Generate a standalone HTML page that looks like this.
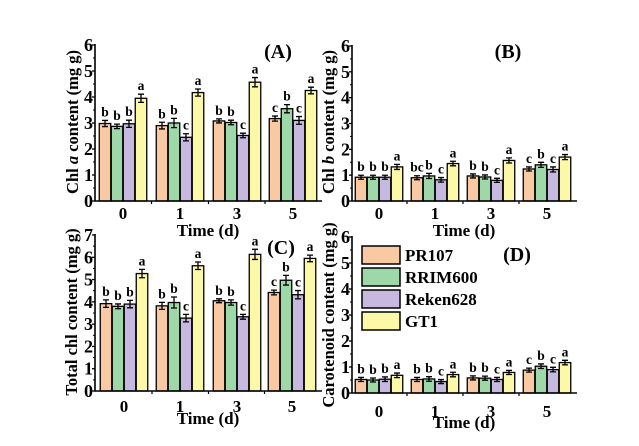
<!DOCTYPE html>
<html><head><meta charset="utf-8"><style>
html,body{margin:0;padding:0;background:#fff;}
svg{display:block;font-family:"Liberation Serif",serif;font-weight:bold;}
</style></head><body>
<svg id="s" width="639" height="446" viewBox="0 0 639 446" xmlns="http://www.w3.org/2000/svg">
<rect width="639" height="446" fill="#fff"/>
<text transform="translate(78,122) rotate(-90)" text-anchor="middle" font-size="16.5">Chl <tspan font-style="italic">a</tspan> content (mg g)</text>
<text transform="translate(334,122) rotate(-90)" text-anchor="middle" font-size="16.5">Chl <tspan font-style="italic">b</tspan> content (mg g)</text>
<text transform="translate(77,312) rotate(-90)" text-anchor="middle" font-size="16.5">Total chl content (mg g)</text>
<text transform="translate(334,315) rotate(-90)" text-anchor="middle" font-size="16.5">Carotenoid content (mg g)</text>
<text x="208" y="236" text-anchor="middle" font-size="17">Time (d)</text>
<text x="464" y="236" text-anchor="middle" font-size="17">Time (d)</text>
<text x="208" y="424" text-anchor="middle" font-size="17">Time (d)</text>
<text x="464" y="428" text-anchor="middle" font-size="17">Time (d)</text>
<text x="278" y="58" text-anchor="middle" font-size="20">(A)</text>
<text x="508" y="58" text-anchor="middle" font-size="20">(B)</text>
<text x="281" y="254" text-anchor="middle" font-size="20">(C)</text>
<text x="517" y="261" text-anchor="middle" font-size="20">(D)</text>
<g stroke="#000" stroke-width="1.5">
<rect x="362" y="246" width="38" height="18" fill="#f9c9a3"/>
<rect x="362" y="268" width="38" height="18" fill="#9fd8a8"/>
<rect x="362" y="290" width="38" height="18" fill="#c6b8df"/>
<rect x="362" y="312" width="38" height="18" fill="#fbf9a8"/>
</g>
<g font-size="17">
<text x="405" y="261">PR107</text>
<text x="405" y="283">RRIM600</text>
<text x="405" y="305">Reken628</text>
<text x="405" y="327">GT1</text>
</g>
<g id="g"></g>
</svg>
<script>
var cols=["#f9c9a3","#9fd8a8","#c6b8df","#fbf9a8"];
var P=[
{x0:95,x1:322,y0:201,top:45,max:6,c:[123,180,237,293],lab:213,
v:[[2.98,2.87,2.97,3.95],[2.9,3.0,2.45,4.17],[3.08,3.02,2.52,4.57],[3.17,3.55,3.1,4.25]],
e:[[.06,.03,.08,.1],[.07,.12,.08,.08],[.02,.03,.03,.12],[.04,.1,.09,.07]],
l:[["b","b","b","a"],["b","b","c","a"],["b","b","c","a"],["c","b","c","a"]]},
{x0:352,x1:577,y0:201,top:46,max:6,c:[379,435,491,547],lab:213,
v:[[.92,.92,.92,1.32],[.9,.97,.82,1.45],[.97,.93,.8,1.57],[1.24,1.4,1.22,1.7]],
e:[[.02,.02,.02,.04],[.02,.04,.03,.03],[.02,.02,.02,.04],[.02,.04,.04,.04]],
l:[["b","b","b","a"],["bc","b","c","a"],["b","b","c","a"],["c","b","c","a"]]},
{x0:95,x1:322,y0:391,top:235,max:7,c:[124,180,237,292],lab:406,
v:[[3.92,3.8,3.9,5.27],[3.82,3.97,3.27,5.62],[4.05,3.97,3.33,6.13],[4.42,4.97,4.32,5.95]],
e:[[.1,.04,.1,.12],[.09,.18,.1,.1],[.02,.05,.04,.16],[.04,.15,.12,.08]],
l:[["b","b","b","a"],["b","b","c","a"],["b","b","c","a"],["c","b","c","a"]]},
{x0:352,x1:577,y0:393,top:237,max:6,c:[379,435,491,547],lab:411,
v:[[.52,.5,.53,.68],[.52,.54,.44,.71],[.58,.57,.52,.79],[.88,1.03,.9,1.17]],
e:[[.02,.02,.03,.03],[.02,.03,.02,.03],[.02,.02,.02,.02],[.02,.03,.03,.03]],
l:[["b","b","b","a"],["b","b","c","a"],["b","b","c","a"],["c","b","c","a"]]}
];
var h="",offs=[-18,-6,6,18],names=["0","1","3","5"];
P.forEach(function(p){
 var k=(p.y0-p.top)/p.max;
 p.c.forEach(function(cx,gi){
  for(var i=0;i<4;i++){
   var val=p.v[gi][i],er=p.e[gi][i],bx=cx+offs[i]-5.75,by=p.y0-val*k;
   h+='<rect x="'+bx+'" y="'+by+'" width="11.5" height="'+(val*k)+'" fill="'+cols[i]+'" stroke="#000" stroke-width="1.3"/>';
   var bc=cx+offs[i],t=by-er*k-1.5,b=by+er*k+1.5;
   h+='<path d="M'+bc+' '+t+'V'+b+'M'+(bc-3)+' '+t+'H'+(bc+3)+'M'+(bc-3)+' '+b+'H'+(bc+3)+'" stroke="#000" stroke-width="1.3" fill="none"/>';
   h+='<text x="'+bc+'" y="'+(t-4)+'" text-anchor="middle" font-size="13.5">'+p.l[gi][i]+'</text>';
  }
  h+='<text x="'+cx+'" y="'+(p.lab+6)+'" text-anchor="middle" font-size="17">'+names[gi]+'</text>';
 });
 h+='<path d="M'+p.x0+' '+(p.top-1)+'V'+p.y0+'H'+p.x1+'" stroke="#000" stroke-width="1.6" fill="none"/>';
 for(var j=0;j<=p.max;j++){
  var y=p.y0-j*k;
  h+='<path d="M'+(p.x0-3)+' '+y+'H'+p.x0+'" stroke="#000" stroke-width="1.3"/>';
  if(j<p.max)h+='<path d="M'+(p.x0-2)+' '+(y-k/2)+'H'+p.x0+'" stroke="#000" stroke-width="1"/>';
  h+='<text x="'+(p.x0-2)+'" y="'+(y+6)+'" text-anchor="end" font-size="18">'+j+'</text>';
 }
 for(var g=0;g<3;g++){var mx=(p.c[g]+p.c[g+1])/2;h+='<path d="M'+mx+' '+p.y0+'V'+(p.y0+3)+'" stroke="#000" stroke-width="1.2"/>';}
});
document.getElementById("g").innerHTML=h;
</script>
</body></html>
